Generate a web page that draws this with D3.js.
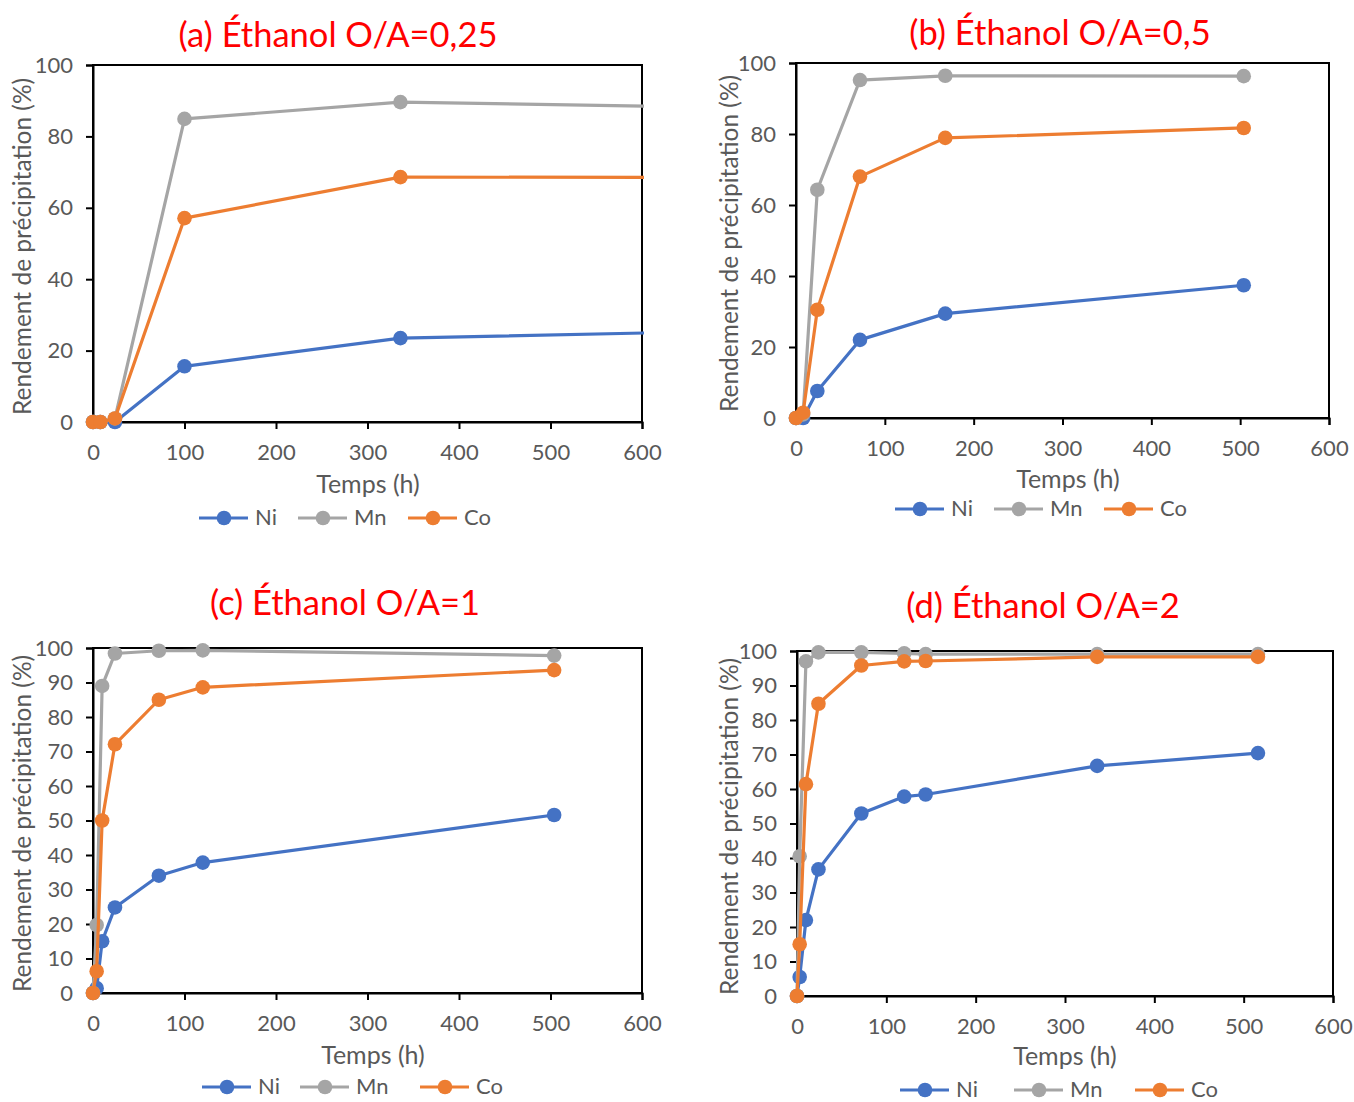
<!DOCTYPE html>
<html><head><meta charset="utf-8">
<script src="https://cdn.jsdelivr.net/npm/d3@7"></script>
<style>body{margin:0;background:#fff}svg{display:block}</style>
</head><body>
<script>
// ---- DATA ----
const seriesNames = ["Ni", "Mn", "Co"];
const titles = ["(a) Éthanol O/A=0,25", "(b) Éthanol O/A=0,5", "(c) Éthanol O/A=1", "(d) Éthanol O/A=2"];
const xTicks = [0, 100, 200, 300, 400, 500, 600];
const yTicksA = [0, 20, 40, 60, 80, 100];
const yTicksC = [0, 10, 20, 30, 40, 50, 60, 70, 80, 90, 100];

const timeA = [0, 8, 24, 100, 336, 672];
const niA = [0, 0, 0, 15.6, 23.5, 25.3];
const mnA = [0, 0, 1, 84.9, 89.6, 88.2];
const coA = [0, 0, 1, 57.1, 68.6, 68.5];

const timeB = [0, 8, 24, 72, 168, 504];
const niB = [0, 0, 7.6, 22, 29.4, 37.4];
const mnB = [0, 1, 64.3, 95.2, 96.4, 96.3];
const coB = [0, 1.5, 30.5, 68, 78.9, 81.7];

const timeC = [0, 4, 10, 24, 72, 120, 504];
const niC = [0, 1.4, 15, 24.8, 34, 37.8, 51.6];
const mnC = [0, 19.7, 89, 98.4, 99.2, 99.3, 97.8];
const coC = [0, 6.3, 50, 72.1, 85, 88.6, 93.6];

const timeD = [0, 3, 10, 24, 72, 120, 144, 336, 516];
const niD = [0, 5.5, 22, 36.7, 52.9, 57.8, 58.4, 66.7, 70.4];
const mnD = [0, 40.5, 97, 99.6, 99.6, 99.3, 99.1, 99.1, 99.1];
const coD = [0, 15, 61.4, 84.7, 95.8, 97, 97.1, 98.3, 98.3];

// ---- LAYOUT / STYLE ----
const colors = {Ni: "#4472C4", Mn: "#A5A5A5", Co: "#ED7D31"};
const font = "Lato, 'Open Sans', sans-serif";
const panels = [
  {title: titles[0], time: timeA, vals: [niA, mnA, coA], yTicks: yTicksA,
   x0: 93, x1: 642, y0: 65, y1: 422, tx: 338, ty: 47, xlx: 368, xly: 493, ylx: 31, legY: 518,
   leg: [199, 298, 408]},
  {title: titles[1], time: timeB, vals: [niB, mnB, coB], yTicks: yTicksA,
   x0: 796, x1: 1329, y0: 63, y1: 418, tx: 1060, ty: 45, xlx: 1068, xly: 488, ylx: 738, legY: 509,
   leg: [895, 994, 1104]},
  {title: titles[2], time: timeC, vals: [niC, mnC, coC], yTicks: yTicksC,
   x0: 93, x1: 642, y0: 648, y1: 993, tx: 345, ty: 615, xlx: 373, xly: 1064, ylx: 31, legY: 1087,
   leg: [202, 300, 420]},
  {title: titles[3], time: timeD, vals: [niD, mnD, coD], yTicks: yTicksC,
   x0: 797, x1: 1333, y0: 651, y1: 996, tx: 1043, ty: 618, xlx: 1065, xly: 1065, ylx: 738, legY: 1090,
   leg: [900, 1014, 1135]}
];

const svg = d3.select("body").append("svg").attr("width", 1354).attr("height", 1102)
  .style("font-family", font);

panels.forEach((p, pi) => {
  const x = d3.scaleLinear().domain([0, 600]).range([p.x0, p.x1]);
  const y = d3.scaleLinear().domain([0, 100]).range([p.y1, p.y0]);
  const g = svg.append("g");

  g.append("text").attr("x", p.tx).attr("y", p.ty).attr("text-anchor", "middle")
    .attr("fill", "#FF0000").attr("font-size", 34.5).text(p.title);

  // box
  g.append("rect").attr("x", p.x0).attr("y", p.y0).attr("width", p.x1 - p.x0).attr("height", p.y1 - p.y0)
    .attr("fill", "none").attr("stroke", "#000").attr("stroke-width", 2);

  const xa = g.append("g").attr("transform", `translate(0,${p.y1})`)
    .call(d3.axisBottom(x).tickValues(xTicks).tickSize(7).tickPadding(15).tickFormat(d3.format("d")));
  const ya = g.append("g").attr("transform", `translate(${p.x0},0)`)
    .call(d3.axisLeft(y).tickValues(p.yTicks).tickSize(7).tickPadding(13).tickFormat(d3.format("d")));
  [xa, ya].forEach(a => {
    a.select(".domain").attr("stroke", "#000").attr("stroke-width", 2);
    a.selectAll(".tick line").attr("stroke", "#000").attr("stroke-width", 2);
    a.selectAll(".tick text").attr("fill", "#595959").attr("font-size", 22).attr("font-family", font);
  });

  g.append("text").attr("x", p.xlx).attr("y", p.xly).attr("text-anchor", "middle")
    .attr("fill", "#595959").attr("font-size", 25).text("Temps (h)");
  g.append("text").attr("transform", `translate(${p.ylx},${(p.y0 + p.y1) / 2 + 3}) rotate(-90)`)
    .attr("text-anchor", "middle").attr("fill", "#595959").attr("font-size", 24.5)
    .text("Rendement de précipitation (%)");

  const clipId = "clip" + pi;
  svg.append("clipPath").attr("id", clipId).append("rect")
    .attr("x", p.x0 - 10).attr("y", p.y0 - 10).attr("width", p.x1 - p.x0 + 12).attr("height", p.y1 - p.y0 + 20);
  const plot = g.append("g").attr("clip-path", `url(#${clipId})`);

  seriesNames.forEach((name, si) => {
    const pts = p.time.map((t, i) => [t, p.vals[si][i]]);
    plot.append("path").datum(pts)
      .attr("d", d3.line().x(d => x(d[0])).y(d => y(d[1])))
      .attr("fill", "none").attr("stroke", colors[name]).attr("stroke-width", 3.2)
      .attr("stroke-linejoin", "round");
    plot.selectAll(null).data(pts.filter(d => d[0] <= 600)).join("circle")
      .attr("cx", d => x(d[0])).attr("cy", d => y(d[1])).attr("r", 7.3)
      .attr("fill", colors[name]);
  });

  // legend
  const lg = g.append("g");
  seriesNames.forEach((name, si) => {
    const lx = p.leg[si];
    lg.append("line").attr("x1", lx).attr("x2", lx + 49).attr("y1", p.legY).attr("y2", p.legY)
      .attr("stroke", colors[name]).attr("stroke-width", 3.2);
    lg.append("circle").attr("cx", lx + 25).attr("cy", p.legY).attr("r", 7.3).attr("fill", colors[name]);
    lg.append("text").attr("x", lx + 56).attr("y", p.legY + 7).attr("fill", "#595959")
      .attr("font-size", 22).text(name);
  });
});
</script>
</body></html>
